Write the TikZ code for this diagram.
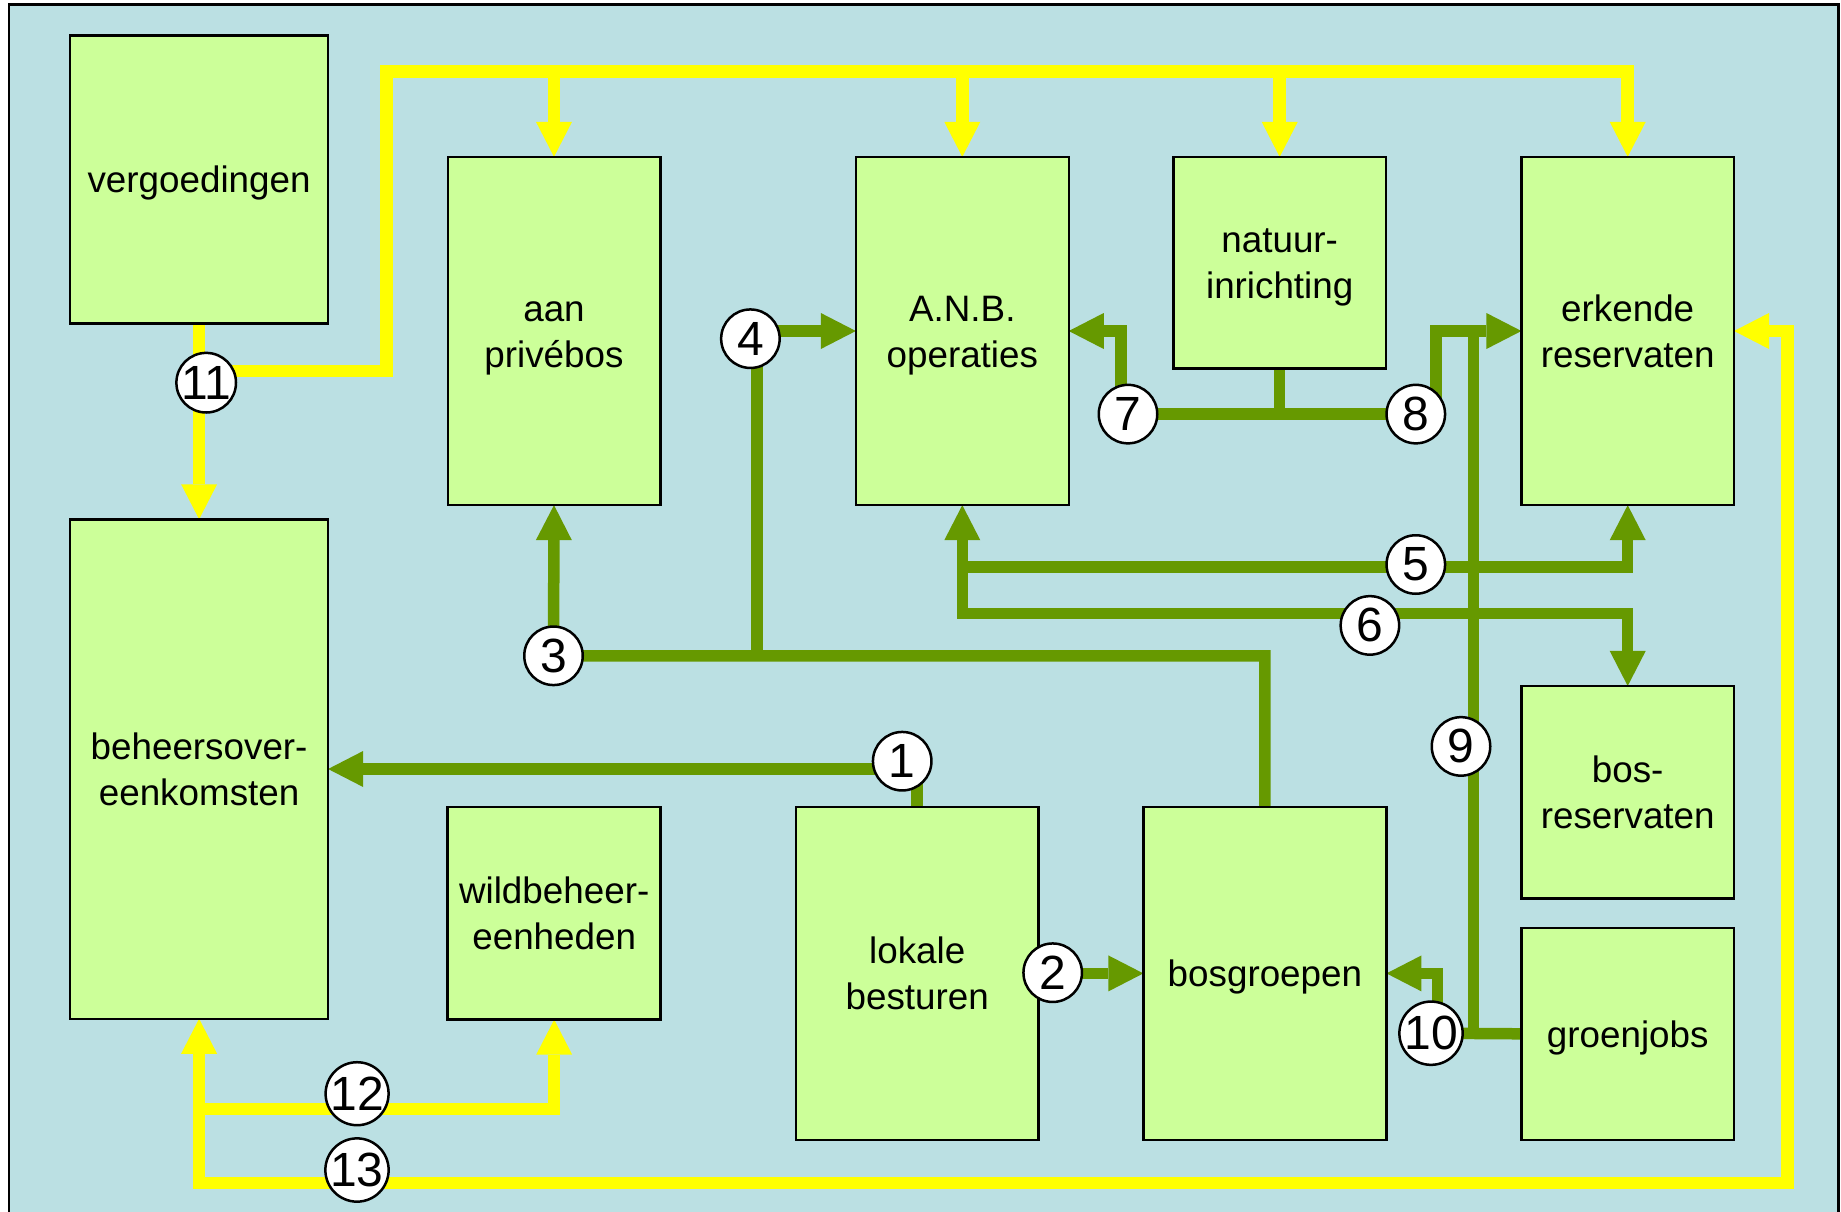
\documentclass[tikz,border=0pt]{standalone}
\usepackage{fontspec}
\setmainfont{Liberation Sans}
\usetikzlibrary{arrows.meta}
\definecolor{bgblue}{HTML}{BBE0E3}
\definecolor{boxgreen}{HTML}{CCFF99}
\definecolor{lgreen}{HTML}{669900}
\definecolor{lyellow}{HTML}{FFFF00}
\pgfdeclarelayer{back}
\pgfdeclarelayer{lines}
\pgfsetlayers{back,lines,main}
\newcommand\lns[1]{\begin{tabular}{@{}c@{}}#1\end{tabular}}
\begin{document}
\begin{tikzpicture}[x=1pt,y=-1pt,
  >={Triangle[length=35pt,width=36pt,line width=0pt]},
  box/.style={draw=black,fill=boxgreen,line width=2.5pt,inner sep=0pt,outer sep=0pt},
  boxtext/.style={inner sep=0pt,outer sep=0pt,font=\fontsize{36.8}{46}\selectfont},
  num/.style={circle,draw=black,fill=white,line width=2.5pt,minimum size=58.5pt,
    inner sep=0pt,font=\fontsize{48}{48}\selectfont},
  gline/.style={draw=lgreen,line width=11.5pt},
  yline/.style={draw=lyellow,line width=12.5pt}]
\useasboundingbox (0,0) rectangle (1841,1212);
\begin{pgfonlayer}{back}
  \begin{scope}
    \clip (0,0) rectangle (1841,1212);
    \fill[white] (0,0) rectangle (1841,1212);
    \draw[fill=bgblue,line width=2.5pt] (8.9,4.6) rectangle (1838.7,1240);
  \end{scope}
\end{pgfonlayer}

% boxes
\node[box,minimum width=258pt,minimum height=287.8pt] (verg) at (199.1,179.5) {};
\node[box,minimum width=212.5pt,minimum height=348.3pt] (prive) at (554,331) {};
\node[box,minimum width=212.9pt,minimum height=348.3pt] (anb) at (962.3,331) {};
\node[box,minimum width=212.1pt,minimum height=211.6pt] (natuur) at (1279.7,262.7) {};
\node[box,minimum width=212.6pt,minimum height=348.3pt] (erk) at (1627.7,331) {};
\node[box,minimum width=258pt,minimum height=499.5pt] (beheer) at (199.1,769) {};
\node[box,minimum width=213pt,minimum height=212.7pt] (wild) at (554.2,913.3) {};
\node[box,minimum width=242.4pt,minimum height=332.9pt] (lokale) at (917.2,973.4) {};
\node[box,minimum width=243.1pt,minimum height=332.9pt] (bosgr) at (1264.9,973.4) {};
\node[box,minimum width=212.6pt,minimum height=212.7pt] (bosres) at (1627.7,792.3) {};
\node[box,minimum width=212.6pt,minimum height=212pt] (groen) at (1627.7,1033.8) {};

% box texts
\node[boxtext] (tverg) at ([yshift=-4pt]verg.center) {\lns{vergoedingen}};
\node[boxtext] (tprive) at ([yshift=-4pt]prive.center) {\lns{aan\\privébos}};
\node[boxtext] (tanb) at ([yshift=-4pt]anb.center) {\lns{A.N.B.\\operaties}};
\node[boxtext] (tnatuur) at ([yshift=-4pt]natuur.center) {\lns{natuur-\\inrichting}};
\node[boxtext] (terk) at ([yshift=-4pt]erk.center) {\lns{erkende\\reservaten}};
\node[boxtext] (tbeheer) at ([yshift=-4pt]beheer.center) {\lns{beheersover-\\eenkomsten}};
\node[boxtext] (twild) at ([yshift=-4pt]wild.center) {\lns{wildbeheer-\\eenheden}};
\node[boxtext] (tlokale) at ([yshift=-4pt]lokale.center) {\lns{lokale\\besturen}};
\node[boxtext] (tbosgr) at ([yshift=-4pt]bosgr.center) {\lns{bosgroepen}};
\node[boxtext] (tbosres) at ([yshift=-4pt]bosres.center) {\lns{bos-\\reservaten}};
\node[boxtext] (tgroen) at ([yshift=-4pt]groen.center) {\lns{groenjobs}};

% numbered circles
\node[num] (c1) at (902.2,761.2) {1};
\node[num] (c2) at (1052.7,972.7) {2};
\node[num] (c3) at (553.5,655.8) {3};
\node[num] (c4) at (750.4,338.7) {4};
\node[num] (c5) at (1415.8,564.5) {5};
\node[num] (c6) at (1369.9,625.4) {6};
\node[num] (c7) at (1128,414.1) {7};
\node[num] (c8) at (1415.8,414.1) {8};
\node[num] (c9) at (1461,746.4) {9};
\node[num] (c10) at (1431,1033.2) {10};
\node[num] (c11) at (206.2,382.7) {11};
\node[num] (c12) at (357.1,1093.7) {12};
\node[num] (c13) at (357,1170) {13};

% junction coordinates
\coordinate (ycorner) at (386.6,71.4);
\coordinate (j12) at (199.1,1109);
\coordinate (j13) at (199.1,1183);
\coordinate (yr) at (1787.6,1183);
\coordinate (j4) at (757,655.8);
\coordinate (j5) at (962.3,567.2);
\coordinate (j6) at (962.3,613.7);
\coordinate (j9) at (1473.5,331);

\begin{pgfonlayer}{lines}
  % yellow connectors
  \draw[yline,->] (verg.south) -- (beheer.north);
  \draw[yline,->] ([yshift=11.5pt]c11.center) -| (ycorner) -| (erk.north);
  \foreach \n in {prive,anb,natuur} \draw[yline,->] (\n.north |- ycorner) -- (\n.north);
  \draw[yline,<->] (beheer.south) -- (j13) -| (erk.east -| yr) -- (erk.east);
  \draw[yline,->] (j12) -| (wild.south);
  % green connectors
  \draw[gline,->] (lokale.north) |- (beheer.east);
  \draw[gline,->] (lokale.east) -- (bosgr.west);
  \draw[gline,->] (bosgr.north) |- (c3.center) -- (prive.south);
  \draw[gline,->] (j4) |- (anb.west);
  \draw[gline,<->] (anb.south) -- (j6) -| (bosres.north);
  \draw[gline,->] (j5) -| (erk.south);
  \draw[gline] (natuur.south) -- (natuur.south |- c7.center);
  \draw[gline] (c7.center) -- (c8.center);
  \draw[gline,->] ([xshift=-6.8pt]c7.center) |- (anb.east);
  \draw[gline,->] ([xshift=20.4pt]c8.center) |- (erk.west);
  \draw[gline] (j9) -- (j9 |- groen.west);
  \draw[gline] (c10.center) -- (groen.west);
  \draw[gline,->] ([xshift=6.7pt]c10.center) |- (bosgr.east);
\end{pgfonlayer}
\end{tikzpicture}
\end{document}
